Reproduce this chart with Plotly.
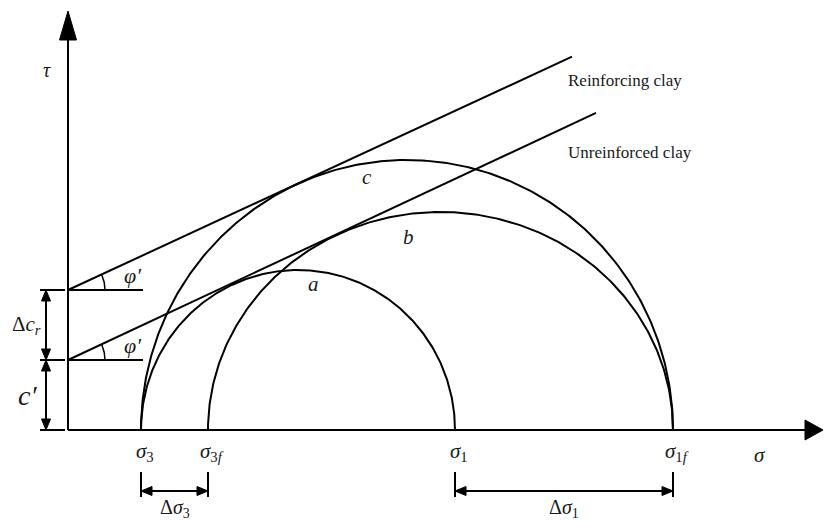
import numpy as np
import plotly.graph_objects as go

# Mohr circles: minor / major principal stress and peak shear (plot units)
circle_names = ["a", "b", "c"]
sigma3_vals = [73, 140, 73]
sigma1_vals = [387, 605, 605]
tau_peaks = [160, 218, 270]

# Strength envelopes: intercept (cohesion), slope (tan phi'), end stress
envelope_names = ["Reinforcing clay", "Unreinforced clay"]
envelope_c = [140, 70]
envelope_slope = [0.463, 0.468]
envelope_end = [504, 528]
envelope_label_y = [350, 278]

# Axis tick labels on the sigma axis
sigma_ticks = [73, 140, 387, 605]
sigma_tick_text = ["<i>σ</i><sub>3</sub>", "<i>σ</i><sub>3<i>f</i></sub>",
                   "<i>σ</i><sub>1</sub>", "<i>σ</i><sub>1<i>f</i></sub>"]

X_MIN, X_MAX = -68, 756
Y_MIN, Y_MAX = -92, 430
SERIF = "Liberation Serif, Times New Roman, serif"
INK = "#1a1a1a"
LW = 2

fig = go.Figure()


def seg(x0, y0, x1, y1, w=LW):
    fig.add_shape(type="line", x0=x0, y0=y0, x1=x1, y1=y1,
                  line=dict(color="black", width=w))


def tri(tip, direction, length=11, half=4.5):
    """Filled arrowhead with its tip at `tip`, pointing along `direction`."""
    tx, ty = tip
    dx, dy = direction
    bx, by = tx - dx * length, ty - dy * length
    px, py = -dy * half, dx * half
    fig.add_shape(type="path",
                  path=f"M {tx},{ty} L {bx+px},{by+py} L {bx-px},{by-py} Z",
                  fillcolor="black", line=dict(color="black", width=1))


# Mohr circles (upper halves)
t = np.linspace(0, np.pi, 300)
for name, s3, s1, h in zip(circle_names, sigma3_vals, sigma1_vals, tau_peaks):
    cx, r = (s1 + s3) / 2, (s1 - s3) / 2
    fig.add_trace(go.Scatter(x=cx + r * np.cos(t), y=h * np.sin(t), mode="lines",
                             line=dict(color="black", width=LW), name=name,
                             hoverinfo="skip", showlegend=False))

# Failure envelopes with friction-angle markers
for name, c0, m, xe, ly in zip(envelope_names, envelope_c, envelope_slope,
                               envelope_end, envelope_label_y):
    fig.add_trace(go.Scatter(x=[0, xe], y=[c0, c0 + m * xe], mode="lines",
                             line=dict(color="black", width=LW), name=name,
                             hoverinfo="skip", showlegend=False))
    fig.add_annotation(x=498, y=ly, text=name, showarrow=False, xanchor="left",
                       font=dict(family=SERIF, size=17, color=INK))
    seg(0, c0, 75, c0)
    ta = np.linspace(0, np.arctan(m), 30)
    fig.add_trace(go.Scatter(x=37 * np.cos(ta), y=c0 + 37 * np.sin(ta), mode="lines",
                             line=dict(color="black", width=1.5),
                             hoverinfo="skip", showlegend=False))
    fig.add_annotation(x=65, y=c0 + 15, text="<i>φ′</i>", showarrow=False,
                       font=dict(family=SERIF, size=22, color=INK))

# Circle labels
label_pos = {"a": (245, 146), "b": (340, 193), "c": (299, 253)}
for name, (lx, ly) in label_pos.items():
    fig.add_annotation(x=lx, y=ly, text=f"<i>{name}</i>", showarrow=False,
                       font=dict(family=SERIF, size=21, color=INK))

# Axes with arrowheads
seg(0, 0, X_MAX - 10, 0)
seg(0, 0, 0, Y_MAX - 30)
tri((X_MAX - 1, 0), (1, 0), length=18, half=10)
tri((0, Y_MAX - 11), (0, 1), length=29, half=8.5)
fig.add_annotation(x=-21, y=360, text="<i>τ</i>", showarrow=False,
                   font=dict(family=SERIF, size=20, color=INK))
fig.add_annotation(x=692, y=-25, text="<i>σ</i>", showarrow=False,
                   font=dict(family=SERIF, size=21, color=INK))

# Sigma tick labels
for xv, txt in zip(sigma_ticks, sigma_tick_text):
    fig.add_annotation(x=xv + 4, y=-22, text=txt, showarrow=False,
                       font=dict(family=SERIF, size=21, color=INK))


# Dimension lines below the sigma axis
def dim_h(x0, x1, y, label):
    seg(x0, y + 19, x0, y - 6)
    seg(x1, y + 19, x1, y - 6)
    seg(x0 + 6, y, x1 - 6, y)
    tri((x1, y), (1, 0))
    tri((x0, y), (-1, 0))
    fig.add_annotation(x=(x0 + x1) / 2, y=y - 17, text=label, showarrow=False,
                       font=dict(family=SERIF, size=20, color=INK))


dim_h(sigma_ticks[0], sigma_ticks[1], -61, "Δ<i>σ</i><sub>3</sub>")
dim_h(sigma_ticks[2], sigma_ticks[3], -61, "Δ<i>σ</i><sub>1</sub>")


# Dimension lines on the tau axis
def dim_v(y0, y1, label, size, lx):
    seg(-22, y0 + 6, -22, y1 - 6)
    tri((-22, y1), (0, 1))
    tri((-22, y0), (0, -1))
    fig.add_annotation(x=lx, y=(y0 + y1) / 2, text=label, showarrow=False,
                       font=dict(family=SERIF, size=size, color=INK))


for yv in [0, envelope_c[1], envelope_c[0]]:
    seg(-28, yv, -3, yv)
dim_v(envelope_c[1], envelope_c[0], "Δ<i>c<sub>r</sub></i>", 21, -42)
dim_v(0, envelope_c[1], "<i>c′</i>", 28, -41)

fig.update_layout(
    width=824, height=522, margin=dict(l=0, r=0, t=0, b=0),
    paper_bgcolor="white", plot_bgcolor="white",
    xaxis=dict(range=[X_MIN, X_MAX], visible=False),
    yaxis=dict(range=[Y_MIN, Y_MAX], visible=False),
    showlegend=False,
)
fig.write_html("out.html")
